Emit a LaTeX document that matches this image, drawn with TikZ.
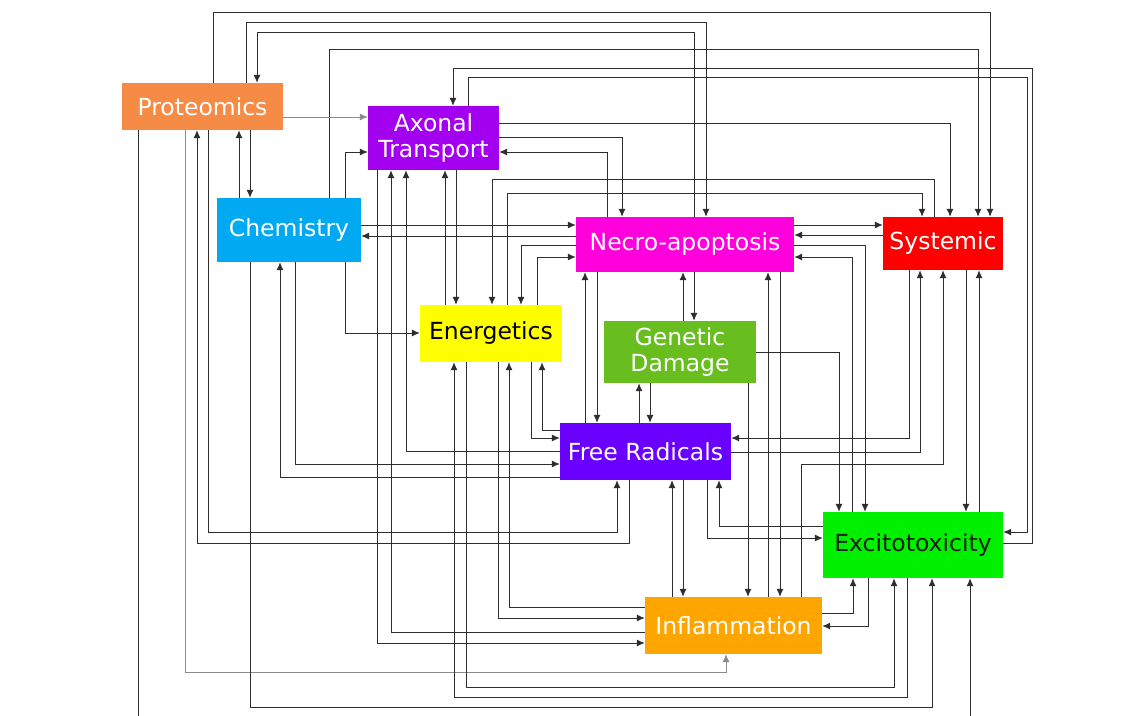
\documentclass[tikz,border=0pt]{standalone}
\usepackage{fontspec}
\usepackage{tikz}
\usetikzlibrary{arrows.meta}
\newfontfamily\boxfont{DejaVu Sans}
\definecolor{line}{HTML}{2E2E2E}
\definecolor{proteo}{HTML}{F58B45}
\definecolor{axonal}{HTML}{A200EE}
\definecolor{chemi}{HTML}{00A9F2}
\definecolor{necro}{HTML}{FF00DC}
\definecolor{system}{HTML}{FF0000}
\definecolor{energy}{HTML}{FFFF00}
\definecolor{genetic}{HTML}{68BE1E}
\definecolor{radical}{HTML}{6A00FF}
\definecolor{excito}{HTML}{00F000}
\definecolor{inflam}{HTML}{FFA500}
\definecolor{darktext}{HTML}{102010}
\tikzset{
  box/.style={inner sep=0pt, align=center, text=white,
    font=\boxfont\fontsize{23.5}{26}\selectfont},
  link/.style={draw=line, line width=1pt, -{Latex[length=8pt,width=7pt]}},
  faint/.style={draw=black!45, line width=0.7pt}
}

\begin{document}
\begin{tikzpicture}[x=1pt, y=-1pt]
  \useasboundingbox (0,0) rectangle (1140,715);
  \fill[white] (0,0) rectangle (1140,715);
  \node[box, fill=proteo, minimum width=161pt, minimum height=47pt] (prot) at (202.5,106.5) {Proteomics};
  \node[box, fill=axonal, minimum width=131pt, minimum height=64pt] (axon) at (433.5,138) {Axonal\\Transport};
  \node[box, fill=chemi, minimum width=144pt, minimum height=64pt] (chem) at (289,230) {Chemistry};
  \node[box, fill=necro, minimum width=218pt, minimum height=55pt] (necro) at (685,244.5) {Necro-apoptosis};
  \node[box, fill=system, minimum width=120pt, minimum height=53pt] (syst) at (943,243.5) {Systemic};
  \node[box, fill=energy, text=black, minimum width=142pt, minimum height=57pt] (energ) at (491,333.5) {Energetics};
  \node[box, fill=genetic, minimum width=152pt, minimum height=62pt] (gen) at (680,352) {Genetic\\Damage};
  \node[box, fill=radical, minimum width=171pt, minimum height=57pt] (frad) at (645.5,451.5) {Free Radicals};
  \node[box, fill=excito, text=darktext, minimum width=180pt, minimum height=66pt] (exc) at (913,545) {Excitotoxicity};
  \node[box, fill=inflam, minimum width=177pt, minimum height=57pt] (infl) at (733.5,625.5) {Inflammation};

  \draw[link] (213,0 |- prot.north) |- (990,12) -- (990,0 |- syst.north);
  \draw[link] (246,0 |- prot.north) |- (706,22) -- (706,0 |- necro.north);
  \draw[link] (694,0 |- necro.north) |- (257,32) -- (257,0 |- prot.north);
  \draw[link] (329,0 |- chem.north) |- (978,49) -- (978,0 |- syst.north);
  \draw[link] (exc.east |- 0,543) -| (1032,68) -| (453,0 |- axon.north);
  \draw[link] (468,0 |- axon.north) |- (1027,77) |- (exc.east |- 0,532);
  \draw[link, faint] (prot.east |- 0,117) -- (axon.west |- 0,117);
  \draw[link] (345,0 |- chem.north) |- (axon.west |- 0,152);
  \draw[link] (345,0 |- chem.south) |- (energ.west |- 0,333);
  \draw[link] (250,0 |- prot.south) -- (250,0 |- chem.north);
  \draw[link] (239,0 |- chem.north) -- (239,0 |- prot.south);
  \draw[link] (138,0 |- prot.south) |- (970,730) -- (970,0 |- exc.south);
  \draw[link, faint] (185,0 |- prot.south) |- (726,672) -- (726,0 |- infl.south);
  \draw[link] (629,0 |- frad.south) |- (197,543) -- (197,0 |- prot.south);
  \draw[link] (208,0 |- prot.south) |- (617,532) -- (617,0 |- frad.south);
  \draw[link] (250,0 |- chem.south) |- (932,707) -- (932,0 |- exc.south);
  \draw[link] (466,0 |- energ.south) |- (894,687) -- (894,0 |- exc.south);
  \draw[link] (907,0 |- exc.south) |- (454,697) -- (454,0 |- energ.south);
  \draw[link] (infl.east |- 0,613) -| (853,0 |- exc.south);
  \draw[link] (868,0 |- exc.south) |- (infl.east |- 0,626);

  \draw[link] (445,0 |- energ.north) -- (445,0 |- axon.south);
  \draw[link] (456,0 |- axon.south) -- (456,0 |- energ.north);
  \draw[link] (934,0 |- syst.north) |- (492,179) -- (492,0 |- energ.north);
  \draw[link] (507,0 |- energ.north) |- (922,193) -- (922,0 |- syst.north);
  \draw[link] (necro.west |- 0,236) -- (chem.east |- 0,236);
  \draw[link] (chem.east |- 0,225) -- (necro.west |- 0,225);
  \draw[link] (necro.west |- 0,245) -| (521,0 |- energ.north);
  \draw[link] (537,0 |- energ.north) |- (necro.west |- 0,257);
  \draw[link] (axon.east |- 0,123) -| (950,0 |- syst.north);
  \draw[link] (axon.east |- 0,137) -| (622,0 |- necro.north);
  \draw[link] (607,0 |- necro.north) |- (axon.east |- 0,152);
  \draw[link] (necro.east |- 0,225) -- (syst.west |- 0,225);
  \draw[link] (syst.west |- 0,235) -- (necro.east |- 0,235);
  \draw[link] (necro.east |- 0,245) -| (865,0 |- exc.north);
  \draw[link] (852,0 |- exc.north) |- (necro.east |- 0,257);
  \draw[link] (gen.east |- 0,352) -| (839,0 |- exc.north);
  \draw[link] (966,0 |- syst.south) -- (966,0 |- exc.north);
  \draw[link] (979,0 |- exc.north) -- (979,0 |- syst.south);
  \draw[link] (909,0 |- syst.south) |- (frad.east |- 0,438);
  \draw[link] (frad.east |- 0,452) -| (920,0 |- syst.south);
  \draw[link] (801,0 |- infl.north) |- (943,464) -- (943,0 |- syst.south);

  \draw[link] (768,0 |- infl.north) -- (768,0 |- necro.south);
  \draw[link] (780,0 |- necro.south) -- (780,0 |- infl.north);
  \draw[link] (748,0 |- gen.south) -- (748,0 |- infl.north);
  \draw[link] (597,0 |- necro.south) -- (597,0 |- frad.north);
  \draw[link] (585,0 |- frad.north) -- (585,0 |- necro.south);
  \draw[link] (683,0 |- gen.north) -- (683,0 |- necro.south);
  \draw[link] (694,0 |- necro.south) -- (694,0 |- gen.north);
  \draw[link] (639,0 |- frad.north) -- (639,0 |- gen.south);
  \draw[link] (650,0 |- gen.south) -- (650,0 |- frad.north);
  \draw[link] (531,0 |- energ.south) |- (frad.west |- 0,438);
  \draw[link] (frad.west |- 0,430) -| (542,0 |- energ.south);
  \draw[link] (frad.west |- 0,451) -| (406,0 |- axon.south);
  \draw[link] (295,0 |- chem.south) |- (frad.west |- 0,464);
  \draw[link] (frad.west |- 0,477) -| (280,0 |- chem.south);
  \draw[link] (498,0 |- energ.south) |- (infl.west |- 0,618);
  \draw[link] (infl.west |- 0,607) -| (509,0 |- energ.south);
  \draw[link] (377,0 |- axon.south) |- (infl.west |- 0,643);
  \draw[link] (infl.west |- 0,632) -| (391,0 |- axon.south);
  \draw[link] (683,0 |- frad.south) -- (683,0 |- infl.north);
  \draw[link] (672,0 |- infl.north) -- (672,0 |- frad.south);
  \draw[link] (707,0 |- frad.south) |- (exc.west |- 0,538);
  \draw[link] (exc.west |- 0,526) -| (719,0 |- frad.south);
\end{tikzpicture}
\end{document}
